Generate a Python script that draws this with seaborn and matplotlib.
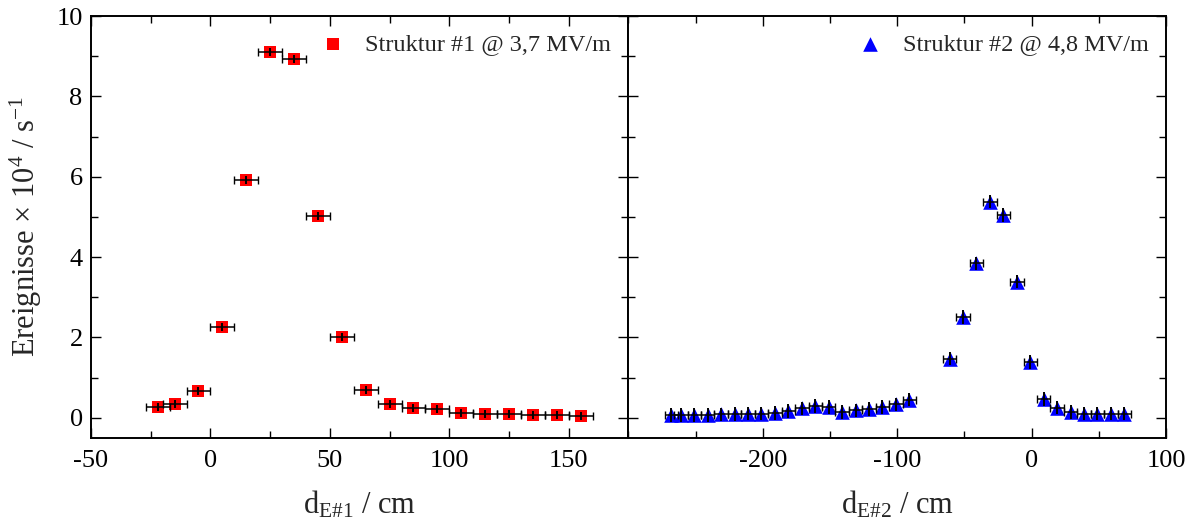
import numpy as np
import pandas as pd
import matplotlib
matplotlib.use("Agg")
import matplotlib.pyplot as plt
import seaborn as sns
from matplotlib.ticker import MultipleLocator

# ---- data ----
x1 = [-22, -15, -5, 5, 15, 25, 35, 45, 55, 65, 75, 85, 95, 105, 115, 125, 135, 145, 155]
y1 = [0.27, 0.33, 0.67, 2.25, 5.92, 9.11, 8.92, 5.01, 2.01, 0.70, 0.33, 0.25, 0.21, 0.12,
      0.09, 0.08, 0.07, 0.06, 0.05]
xerr1 = [5] * len(x1)
yerr1 = [0.1] * len(x1)

x2 = [-268, -261, -251, -241, -231, -221, -211, -201, -191, -181, -171, -161, -151, -141,
      -131, -121, -111, -101, -91, -61, -51, -41, -31, -21, -11, -1, 9, 19, 29, 39, 49, 59, 69]
y2 = [0.06, 0.06, 0.07, 0.07, 0.08, 0.09, 0.10, 0.10, 0.12, 0.17, 0.23, 0.29, 0.27, 0.14,
      0.18, 0.22, 0.27, 0.33, 0.45, 1.47, 2.51, 3.84, 5.38, 5.05, 3.39, 1.39, 0.46, 0.25,
      0.14, 0.10, 0.10, 0.10, 0.10]
xerr2 = [5] * len(x2)
yerr2 = [0.17] * len(x2)

label1 = "Struktur #1 @ 3,7 MV/m"
label2 = "Struktur #2 @ 4,8 MV/m"
xlabel1 = r"d$_{\mathrm{E\#1}}$ / cm"
xlabel2 = r"d$_{\mathrm{E\#2}}$ / cm"
ylabel = r"Ereignisse × 10$^{4}$ / s$^{\mathrm{-1}}$"

df1 = pd.DataFrame({"x": x1, "y": y1, "xerr": xerr1, "yerr": yerr1})
df2 = pd.DataFrame({"x": x2, "y": y2, "xerr": xerr2, "yerr": yerr2})

# ---- style ----
sns.set_style("ticks")
plt.rcParams["font.family"] = ["Liberation Serif", "DejaVu Serif"]
plt.rcParams["mathtext.fontset"] = "custom"
plt.rcParams["mathtext.rm"] = "Liberation Serif"
plt.rcParams["mathtext.it"] = "Liberation Serif:italic"
plt.rcParams["mathtext.bf"] = "Liberation Serif:bold"
plt.rcParams["axes.unicode_minus"] = False

fig, (ax1, ax2) = plt.subplots(1, 2, figsize=(11.94, 5.23), dpi=100, sharey=True)
fig.subplots_adjust(left=0.0762, right=0.9765, top=0.9694, bottom=0.163, wspace=0)

panels = [
    (ax1, df1, "s", "#ff0000", label1, xlabel1, (-50, 175), 50, 25, 8.5),
    (ax2, df2, "^", "#0000ff", label2, xlabel2, (-300, 100), 100, 50, 10.5),
]

for ax, df, mk, col, lab, xl, xlim, maj, mnr, ms in panels:
    sns.scatterplot(data=df, x="x", y="y", marker=mk, color=col, s=ms ** 2,
                    edgecolor=col, linewidth=0, ax=ax, label=lab, zorder=2)
    # horizontal errors with caps
    ax.errorbar(df["x"], df["y"], xerr=df["xerr"], fmt="none",
                ecolor="black", elinewidth=1.1, capsize=3.2, capthick=1.0, zorder=3)
    # vertical errors, no caps
    ax.errorbar(df["x"], df["y"], yerr=df["yerr"], fmt="none",
                ecolor="black", elinewidth=1.4, capsize=0, zorder=3)
    ax.set_xlim(*xlim)
    ax.set_ylim(-0.5, 10)
    ax.xaxis.set_major_locator(MultipleLocator(maj))
    ax.xaxis.set_minor_locator(MultipleLocator(mnr))
    ax.yaxis.set_major_locator(MultipleLocator(2))
    ax.yaxis.set_minor_locator(MultipleLocator(1))
    ax.tick_params(which="both", direction="in", top=True, right=True, width=1.0,
                   labelsize=19, colors="black")
    ax.tick_params(which="major", length=7)
    ax.tick_params(which="minor", length=5)
    ax.tick_params(axis="x", pad=9)
    ax.tick_params(axis="y", pad=6)
    for sp in ax.spines.values():
        sp.set_linewidth(1.4)
        sp.set_color("black")
    ax.set_xlabel(xl, fontsize=22, labelpad=12)
    ax.legend(loc="upper right", frameon=False, fontsize=17.5, handletextpad=0.35,
              borderaxespad=0.2, borderpad=0.5, markerscale=1.0)

ax1.set_xticks([-50, 0, 50, 100, 150])
ax2.set_xticks([-200, -100, 0, 100])
ax2.tick_params(axis="y", labelleft=False)
ax1.set_ylabel(ylabel, fontsize=22, labelpad=9)
ax2.set_ylabel("")

fig.savefig("out.png", dpi=100)
